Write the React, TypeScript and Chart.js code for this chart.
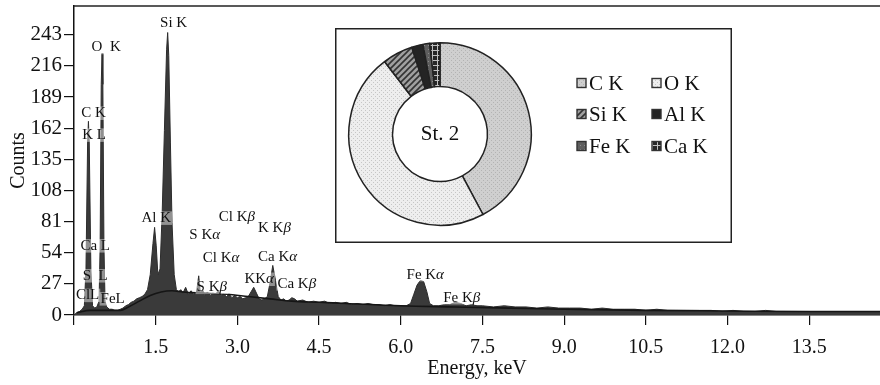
import React, { useEffect, useRef } from "react";
import { Chart, registerables } from "chart.js";

Chart.register(...registerables);

const FONT = "'Liberation Serif', 'Times New Roman', serif";

// EDS spectrum (energy in keV, counts)
const energyKeV = [
  0.0, 0.05, 0.1, 0.15, 0.19, 0.22, 0.25, 0.265, 0.28, 0.31, 0.34, 0.38, 0.42, 0.46, 0.48, 0.5, 0.515, 0.53, 0.55,
  0.57, 0.6, 0.65, 0.7, 0.75, 0.8, 0.85, 0.9, 0.95, 1.0, 1.05, 1.1, 1.15, 1.2, 1.25, 1.3, 1.35, 1.4, 1.45, 1.48,
  1.51, 1.54, 1.58, 1.62, 1.66, 1.7, 1.72, 1.74, 1.77, 1.8, 1.84, 1.88, 1.92, 1.96, 2.0, 2.05, 2.1, 2.15, 2.2,
  2.25, 2.29, 2.32, 2.36, 2.4, 2.45, 2.5, 2.55, 2.6, 2.65, 2.7, 2.75, 2.8, 2.85, 2.9, 2.95, 3.0, 3.05, 3.1, 3.15,
  3.2, 3.25, 3.3, 3.35, 3.4, 3.45, 3.5, 3.55, 3.6, 3.65, 3.7, 3.75, 3.8, 3.85, 3.9, 3.95, 4.0, 4.05, 4.1, 4.2,
  4.3, 4.4, 4.5, 4.6, 4.7, 4.8, 4.9, 5.0, 5.1, 5.2, 5.3, 5.4, 5.5, 5.6, 5.7, 5.8, 5.9, 6.0, 6.1, 6.18, 6.24,
  6.3, 6.36, 6.42, 6.48, 6.53, 6.6, 6.7, 6.8, 6.9, 7.0, 7.1, 7.2, 7.3, 7.4, 7.5, 7.7, 7.9, 8.1, 8.3, 8.5, 8.7,
  8.9, 9.1, 9.3, 9.5, 9.7, 9.9, 10.1, 10.3, 10.5, 10.7, 10.9, 11.1, 11.3, 11.5, 11.7, 11.9, 12.1, 12.3, 12.5,
  12.7, 12.9, 13.1, 13.3, 13.5, 13.7, 13.9, 14.1, 14.3, 14.5, 14.8,
];
const counts = [
  0, 2, 3, 5, 8, 40, 150, 168, 150, 40, 8, 6, 7, 12, 60, 200, 227, 200, 60,
  12, 7, 5, 5, 4, 4, 5, 6, 8, 9, 11, 12, 14, 15, 16, 18, 22, 35, 62, 76,
  60, 35, 40, 90, 160, 230, 245, 225, 150, 80, 35, 22, 20, 22, 19, 24, 18, 21, 18,
  20, 34, 19, 22, 17, 20, 17, 19, 18, 21, 17, 18, 16, 18, 15, 17, 15, 16, 14, 15,
  16, 20, 24, 19, 14, 13, 14, 16, 28, 43, 30, 16, 13, 14, 12, 13, 15, 14, 12, 13,
  11, 12, 11, 12, 10, 11, 10, 11, 9, 10, 9, 10, 9, 9, 8, 9, 8, 8, 8, 10, 18,
  26, 30, 29, 20, 10, 8, 8, 9, 9, 11, 10, 8, 9, 8, 8, 7, 8, 7, 7, 6, 7,
  6, 6, 6, 5, 6, 5, 5, 5, 4, 5, 4, 4, 4, 4, 4, 3, 4, 3, 3,
  4, 3, 3, 3, 3, 3, 3, 3, 3, 3, 3,
];

// fitted background (continuum) line
const bgEnergyKeV = [0.05, 0.3, 0.6, 0.85, 1.0, 1.2, 1.4, 1.6, 1.8, 2.0, 2.4, 2.8, 3.2, 3.6, 4.0, 4.5, 5.0, 6.0, 7.0, 8.0, 9.0, 10.5, 12.0, 13.5, 14.8];
const bgCounts = [2, 4, 4, 4, 7, 12, 17, 20, 21, 20, 19, 18, 16, 14, 12, 11, 10, 8, 7, 6, 5, 4, 3.5, 3, 3];

const xTickValues = [0, 1.5, 3.0, 4.5, 6.0, 7.5, 9.0, 10.5, 12.0, 13.5];
const yTickValues = [0, 27, 54, 81, 108, 135, 162, 189, 216, 243];

// peak annotations
const peakLabels = ["Si K", "O  K", "C K", "K L", "Ca L", "S  L", "ClL", "FeL", "Al K", "S Kα", "Cl Kβ", "Cl Kα", "K Kβ", "Ca Kα", "S Kβ", "KKα", "Ca Kβ", "Fe Kα", "Fe Kβ"];
const peakLabelKeV = [1.83, 0.59, 0.36, 0.37, 0.39, 0.39, 0.25, 0.71, 1.51, 2.4, 2.99, 2.7, 3.68, 3.74, 2.53, 3.4, 4.09, 6.45, 7.12];
const peakLabelCounts = [253, 232, 175, 156, 60, 34, 17, 14, 84, 69, 85, 49, 75, 50, 24, 31, 27, 35, 15];

// inset composition
const elements = ["C K", "O K", "Si K", "Al K", "Fe K", "Ca K"];
const elementShares = [42.2, 47.4, 5.4, 2.0, 1.2, 1.8];
const insetTitle = "St. 2";

function drawRich(ctx: CanvasRenderingContext2D, text: string, cx: number, cy: number, size: number, bg: string | null) {
  const chars = Array.from(text);
  const fontFor = (ch: string) => (ch === "α" || ch === "β" ? `italic ${size}px ${FONT}` : `${size}px ${FONT}`);
  const widths = chars.map((ch) => {
    ctx.font = fontFor(ch);
    return ctx.measureText(ch).width;
  });
  const total = widths.reduce((a, b) => a + b, 0);
  let x = cx - total / 2;
  if (bg) {
    ctx.fillStyle = bg;
    ctx.fillRect(x - 1, cy - size * 0.45, total + 2, size * 0.9);
  }
  ctx.fillStyle = "#111";
  ctx.textBaseline = "middle";
  ctx.textAlign = "left";
  chars.forEach((ch, i) => {
    ctx.font = fontFor(ch);
    ctx.fillText(ch, x, cy);
    x += widths[i];
  });
}

function makePattern(size: number, bg: string, draw: (g: CanvasRenderingContext2D) => void) {
  const c = document.createElement("canvas");
  c.width = size;
  c.height = size;
  const g = c.getContext("2d") as CanvasRenderingContext2D;
  g.fillStyle = bg;
  g.fillRect(0, 0, size, size);
  draw(g);
  return g.createPattern(c, "repeat") as CanvasPattern;
}

export default function App() {
  const mainRef = useRef<HTMLCanvasElement>(null);
  const insetRef = useRef<HTMLCanvasElement>(null);

  useEffect(() => {
    document.body.style.margin = "0";
    const spectrum = energyKeV.map((e, i) => ({ x: e, y: counts[i] }));
    const background = bgEnergyKeV.map((e, i) => ({ x: e, y: bgCounts[i] }));

    const framePlugin = {
      id: "frameAndLabels",
      afterDatasetsDraw(chart: any) {
        const { ctx, chartArea, scales } = chart;
        ctx.save();
        ctx.strokeStyle = "#222";
        ctx.lineWidth = 1.5;
        ctx.beginPath();
        ctx.moveTo(chartArea.left, chartArea.top);
        ctx.lineTo(chartArea.right, chartArea.top);
        ctx.stroke();
        peakLabels.forEach((t, i) => {
          const px = scales.x.getPixelForValue(peakLabelKeV[i]);
          const py = scales.y.getPixelForValue(peakLabelCounts[i]);
          drawRich(ctx, t, px, py, 15, "rgba(255,255,255,0.45)");
        });
        ctx.restore();
      },
    };

    const main = new Chart(mainRef.current as HTMLCanvasElement, {
      type: "line",
      data: {
        datasets: [
          {
            label: "Spectrum",
            data: spectrum,
            borderColor: "#2c2c2c",
            borderWidth: 1,
            backgroundColor: "#3a3a3a",
            fill: "origin",
            pointRadius: 0,
            tension: 0,
            order: 2,
          },
          {
            label: "Background",
            data: background,
            borderColor: "#151515",
            borderWidth: 1.6,
            fill: false,
            pointRadius: 0,
            cubicInterpolationMode: "monotone",
            order: 1,
          },
        ],
      } as any,
      options: {
        responsive: false,
        animation: false,
        devicePixelRatio: 1,
        layout: { padding: { top: 6, right: 0, bottom: 0, left: 0 } },
        plugins: { legend: { display: false }, tooltip: { enabled: false } },
        scales: {
          x: {
            type: "linear",
            min: 0,
            max: 14.8,
            afterBuildTicks: (s: any) => {
              s.ticks = xTickValues.map((v) => ({ value: v }));
            },
            afterFit: (s: any) => {
              s.height = 70;
              s.paddingLeft = 0;
              s.paddingRight = 0;
            },
            ticks: {
              autoSkip: false,
              maxRotation: 0,
              padding: 11,
              color: "#111",
              font: { family: FONT, size: 20 },
              callback: (v: any) => (Number(v) === 0 ? "" : Number(v).toFixed(1)),
            },
            grid: { drawOnChartArea: false, drawTicks: true, tickLength: 10, color: "#111", lineWidth: 1.2 },
            border: { display: true, color: "#111", width: 1.5 },
            title: {
              display: true,
              text: "Energy, keV",
              color: "#111",
              font: { family: FONT, size: 20 },
              padding: { top: 0, bottom: 4 },
            },
          },
          y: {
            type: "linear",
            min: 0,
            max: 268,
            afterBuildTicks: (s: any) => {
              s.ticks = yTickValues.map((v) => ({ value: v }));
            },
            afterFit: (s: any) => {
              s.width = 74;
              s.paddingTop = 0;
              s.paddingBottom = 0;
            },
            ticks: {
              padding: 2,
              color: "#111",
              font: { family: FONT, size: 21 },
              callback: (v: any) => String(v),
            },
            grid: { drawOnChartArea: false, drawTicks: true, tickLength: 10, color: "#111", lineWidth: 1.2 },
            border: { display: true, color: "#111", width: 1.5 },
            title: {
              display: true,
              text: "Counts",
              color: "#111",
              font: { family: FONT, size: 20 },
              padding: { top: 7, bottom: 0 },
            },
          },
        },
      } as any,
      plugins: [framePlugin],
    });

    // patterns for doughnut slices
    const patterns = [
      makePattern(4, "#cfcfcf", (g) => {
        g.fillStyle = "#b3b3b3";
        g.fillRect(0, 0, 1, 1);
        g.fillRect(2, 2, 1, 1);
      }),
      makePattern(4, "#eeeeee", (g) => {
        g.fillStyle = "#c6c6c6";
        g.fillRect(0, 0, 1, 1);
        g.fillRect(2, 2, 1, 1);
      }),
      makePattern(6, "#a0a0a0", (g) => {
        g.strokeStyle = "#333";
        g.lineWidth = 1.6;
        g.beginPath();
        g.moveTo(0, 6);
        g.lineTo(6, 0);
        g.moveTo(-3, 3);
        g.lineTo(3, -3);
        g.moveTo(3, 9);
        g.lineTo(9, 3);
        g.stroke();
      }),
      makePattern(4, "#242424", () => {}),
      makePattern(4, "#5e5e5e", (g) => {
        g.fillStyle = "#8a8a8a";
        g.fillRect(1, 1, 1, 1);
      }),
      makePattern(5, "#262626", (g) => {
        g.fillStyle = "#c0c0c0";
        g.fillRect(2, 0, 1, 5);
        g.fillRect(0, 2, 5, 1);
      }),
    ];

    const insetPlugin = {
      id: "insetDecor",
      beforeDraw(chart: any) {
        const { ctx, width, height } = chart;
        ctx.save();
        ctx.fillStyle = "#fff";
        ctx.fillRect(0, 0, width, height);
        ctx.restore();
      },
      afterDraw(chart: any) {
        const { ctx, width, height } = chart;
        const meta = chart.getDatasetMeta(0);
        const arc = meta.data[0];
        ctx.save();
        ctx.strokeStyle = "#222";
        ctx.lineWidth = 1.5;
        ctx.strokeRect(0.75, 0.75, width - 1.5, height - 1.5);
        ctx.fillStyle = "#111";
        ctx.font = `21px ${FONT}`;
        ctx.textAlign = "center";
        ctx.textBaseline = "middle";
        ctx.fillText(insetTitle, arc.x, arc.y);
        // legend 2 columns x 3 rows
        const colX = [242, 317];
        const rowY = [55, 86, 118];
        elements.forEach((name, i) => {
          const cx = colX[i % 2];
          const cy = rowY[Math.floor(i / 2)];
          ctx.fillStyle = patterns[i];
          ctx.fillRect(cx, cy - 4.5, 9, 9);
          ctx.strokeStyle = "#333";
          ctx.lineWidth = 1.4;
          ctx.strokeRect(cx, cy - 4.5, 9, 9);
          ctx.fillStyle = "#111";
          ctx.font = `21px ${FONT}`;
          ctx.textAlign = "left";
          ctx.textBaseline = "middle";
          ctx.fillText(name, cx + 12, cy + 1);
        });
        ctx.restore();
      },
    };

    const inset = new Chart(insetRef.current as HTMLCanvasElement, {
      type: "doughnut",
      data: {
        labels: elements,
        datasets: [
          {
            data: elementShares,
            backgroundColor: patterns as any,
            borderColor: "#222",
            borderWidth: 1.5,
          },
        ],
      },
      options: {
        responsive: false,
        animation: false,
        devicePixelRatio: 1,
        cutout: "52%",
        layout: { padding: { left: 13, top: 14, right: 200, bottom: 17 } },
        plugins: { legend: { display: false }, tooltip: { enabled: false } },
      } as any,
      plugins: [insetPlugin],
    });

    return () => {
      main.destroy();
      inset.destroy();
    };
  }, []);

  return (
    <div style={{ position: "relative", width: 880, height: 385, background: "#fff", overflow: "hidden" }}>
      <canvas ref={mainRef} width={880} height={385} style={{ position: "absolute", left: 0, top: 0, width: 880, height: 385 }} />
      <canvas ref={insetRef} width={397} height={215} style={{ position: "absolute", left: 335, top: 28, width: 397, height: 215 }} />
    </div>
  );
}
